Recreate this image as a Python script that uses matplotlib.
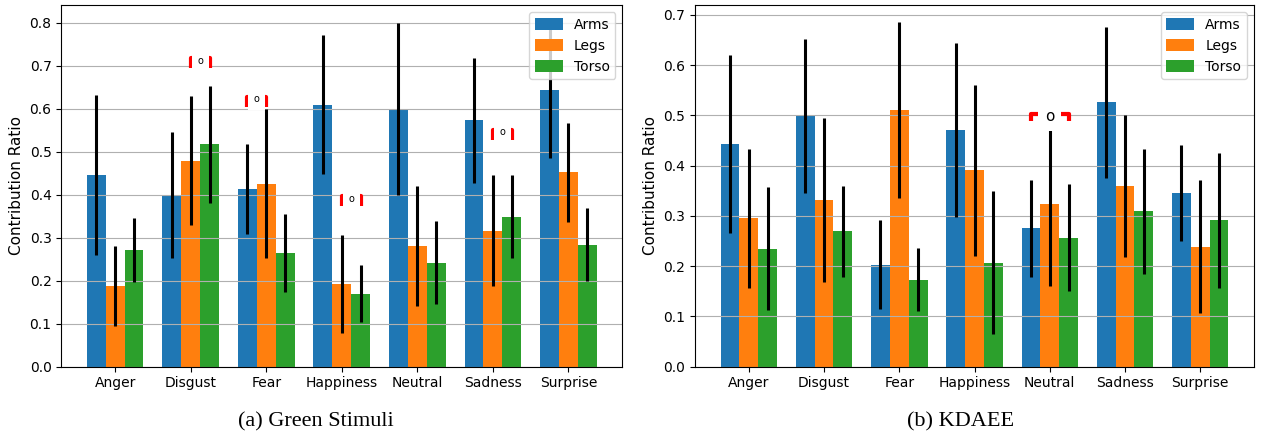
import numpy as np
import matplotlib.pyplot as plt

emotions = ["Anger", "Disgust", "Fear", "Happiness", "Neutral", "Sadness", "Surprise"]
parts = ["Arms", "Legs", "Torso"]

# (a) Green Stimuli
green_arms = [0.445, 0.399, 0.414, 0.610, 0.599, 0.573, 0.643]
green_legs = [0.188, 0.479, 0.426, 0.193, 0.281, 0.316, 0.452]
green_torso = [0.272, 0.517, 0.265, 0.170, 0.242, 0.349, 0.284]
green_arms_err = [0.186, 0.147, 0.105, 0.162, 0.200, 0.145, 0.158]
green_legs_err = [0.094, 0.150, 0.173, 0.114, 0.139, 0.129, 0.116]
green_torso_err = [0.075, 0.135, 0.091, 0.067, 0.096, 0.097, 0.085]
# significance marks: (emotion index, first part, second part, height)
green_marks = [(1, 1, 2, 0.718), (2, 0, 1, 0.628), (3, 1, 2, 0.397), (5, 1, 2, 0.551)]

# (b) KDAEE
kdaee_arms = [0.443, 0.499, 0.203, 0.470, 0.275, 0.526, 0.345]
kdaee_legs = [0.295, 0.331, 0.510, 0.391, 0.323, 0.359, 0.239]
kdaee_torso = [0.235, 0.269, 0.173, 0.207, 0.257, 0.309, 0.291]
kdaee_arms_err = [0.177, 0.153, 0.088, 0.173, 0.096, 0.150, 0.095]
kdaee_legs_err = [0.139, 0.163, 0.175, 0.170, 0.162, 0.141, 0.132]
kdaee_torso_err = [0.122, 0.091, 0.063, 0.142, 0.106, 0.125, 0.135]
kdaee_marks = [(4, 0, 2, 0.503)]


def plot_contributions(ax, means, errors, marks, mark_size, mark_pad, drop):
    x = np.arange(len(emotions))
    width = 0.25
    for i, part in enumerate(parts):
        ax.bar(x + (i - 1) * width, means[i], width, yerr=errors[i], label=part,
               error_kw=dict(ecolor="black", elinewidth=2.2, capsize=0))

    for emotion, first, second, height in marks:
        x1 = emotion + (first - 1) * width
        x2 = emotion + (second - 1) * width
        ax.plot([x1, x1, x2, x2], [height - drop, height, height, height - drop],
                color="red", linewidth=3, solid_capstyle="butt", zorder=3)
        ax.text((x1 + x2) / 2, height - 0.006, "o", ha="center", va="center", fontsize=mark_size,
                zorder=4, bbox=dict(facecolor="white", edgecolor="none", pad=mark_pad))

    ax.set_xticks(x)
    ax.set_xticklabels(emotions)
    ax.set_ylabel("Contribution Ratio", fontsize=11)
    ax.yaxis.grid(True)
    ax.legend(loc="upper right", handleheight=1.0)


if __name__ == "__main__":
    fig = plt.figure(figsize=(12.64, 4.32), dpi=100)
    ax1 = fig.add_axes([0.0485, 0.151, 0.4438, 0.837])
    ax2 = fig.add_axes([0.550, 0.151, 0.442, 0.837])

    plot_contributions(ax1, [green_arms, green_legs, green_torso],
                       [green_arms_err, green_legs_err, green_torso_err], green_marks, 7, 4, 0.024)
    plot_contributions(ax2, [kdaee_arms, kdaee_legs, kdaee_torso],
                       [kdaee_arms_err, kdaee_legs_err, kdaee_torso_err], kdaee_marks, 11, 5, 0.014)
    ax1.set_ylim(0, 0.841)
    ax2.set_ylim(0, 0.719)

    fig.text(0.25, 0.012, "(a) Green Stimuli", ha="center", fontsize=16, family="Liberation Serif")
    fig.text(0.76, 0.012, "(b) KDAEE", ha="center", fontsize=16, family="Liberation Serif")

    fig.savefig("out.png", dpi=100)
